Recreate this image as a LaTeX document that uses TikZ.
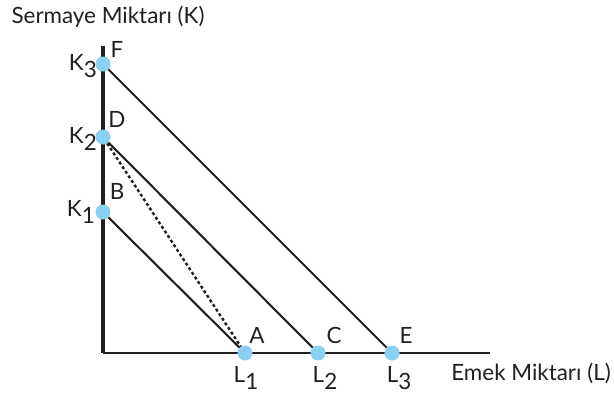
\documentclass[tikz,border=0pt]{standalone}
\usepackage{fontspec}
\setmainfont{Lato}
\usepackage{xcolor}
\usetikzlibrary{positioning}
\definecolor{dotblue}{RGB}{137,208,242}
\definecolor{inkgray}{RGB}{35,31,32}
\newcommand{\sub}[1]{\raisebox{-0.33em}{#1}}

\begin{document}
\begin{tikzpicture}[x=1bp, y=-1bp,
  pt/.style={circle, fill=dotblue, inner sep=0pt, minimum size=15bp},
  lbl/.style={inner sep=0pt, font=\fontsize{22.5}{24}\selectfont, text=inkgray},
  axis/.style={draw=inkgray, line width=2.4bp},
  iso/.style={draw=inkgray, line width=2.1bp}
]
\useasboundingbox (0,0) rectangle (614,393);
% axes
\coordinate (o) at (103,353);
\coordinate (ytop) at (103,46);
\coordinate (xend) at (490,353);
\draw[axis, line width=3.2bp] (o) -- (ytop);
\draw[axis] (o) -- (xend);
% points on the axes
\foreach \n/\y in {1/212, 2/137, 3/64}{
  \node[pt] (K\n) at (103,\y) {};
}
\foreach \n/\x in {1/245, 2/318, 3/392}{
  \node[pt] (L\n) at (\x,353) {};
}
% isocost lines
\foreach \n in {1,2,3}{
  \draw[iso] (K\n) -- (L\n);
}
\draw[iso, line width=2.4bp, dash pattern=on 3bp off 2.5bp] (K2) -- (L1);
% labels
\node[lbl] (F) at (117,49) {F};
\node[lbl] (D) at (117,119) {D};
\node[lbl] (B) at (117,191) {B};
\node[lbl] (A) at (257,335) {A};
\node[lbl] (C) at (334,335) {C};
\node[lbl] (E) at (406,335) {E};
\node[lbl, anchor=east] (k3lbl) at (97,66) {K\sub{3}};
\node[lbl, anchor=east] (k2lbl) at (97,139) {K\sub{2}};
\node[lbl, anchor=east] (k1lbl) at (95,212) {K\sub{1}};
\node[lbl, anchor=north] (l1lbl) at (246,366) {L\sub{1}};
\node[lbl, anchor=north] (l2lbl) at (325,366) {L\sub{2}};
\node[lbl, anchor=north] (l3lbl) at (399,366) {L\sub{3}};
\node[lbl] (ylbl) at (108,17) {Sermaye Miktarı (K)};
\node[lbl] (xlbl) at (531,373) {Emek Miktarı (L)};
\end{tikzpicture}
\end{document}
